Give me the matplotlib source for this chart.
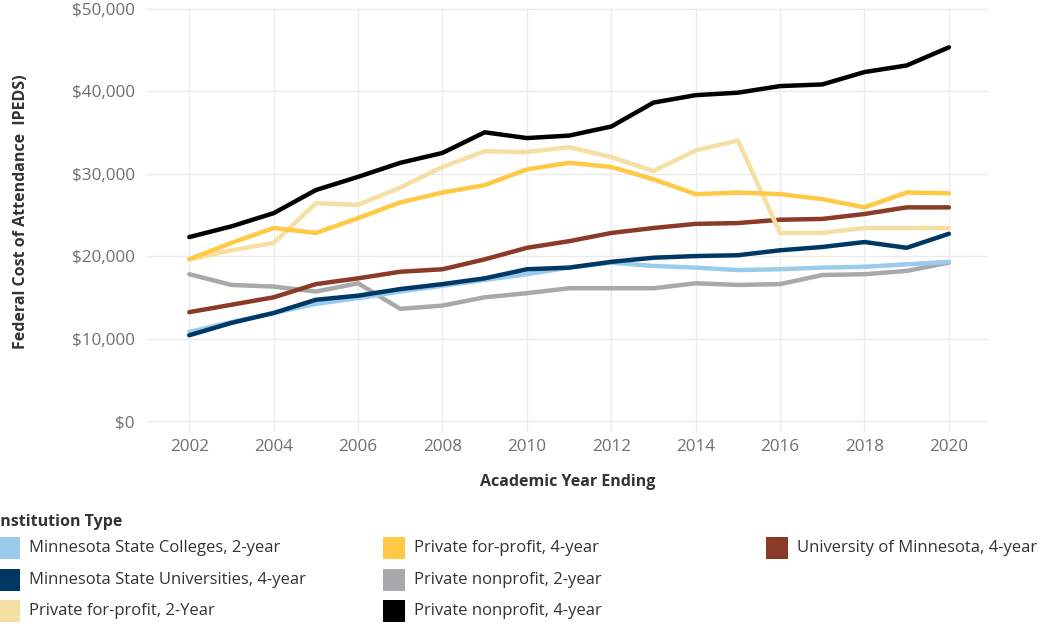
import matplotlib.pyplot as plt
from matplotlib.patches import Rectangle
from matplotlib.ticker import FuncFormatter

years = list(range(2002, 2021))

msc_2yr = [10800, 12000, 13100, 14200, 14900, 15700, 16400, 17100, 17800, 18600,
           19200, 18800, 18600, 18300, 18400, 18600, 18700, 19000, 19300]
msu_4yr = [10400, 11900, 13100, 14700, 15200, 16000, 16600, 17300, 18400, 18600,
           19300, 19800, 20000, 20100, 20700, 21100, 21700, 21000, 22700]
pfp_2yr = [19600, 20700, 21600, 26400, 26200, 28300, 30800, 32700, 32600, 33200,
           32000, 30300, 32800, 34000, 22800, 22800, 23400, 23400, 23400]
pfp_4yr = [19600, 21600, 23400, 22800, 24600, 26500, 27700, 28600, 30500, 31300,
           30800, 29300, 27500, 27700, 27500, 26900, 25900, 27700, 27600]
pnp_2yr = [17800, 16500, 16300, 15700, 16700, 13600, 14000, 15000, 15500, 16100,
           16100, 16100, 16700, 16500, 16600, 17700, 17800, 18200, 19200]
pnp_4yr = [22300, 23600, 25200, 28000, 29600, 31300, 32500, 35000, 34300, 34600,
           35700, 38600, 39500, 39800, 40600, 40800, 42300, 43100, 45300]
umn_4yr = [13200, 14100, 15000, 16600, 17300, 18100, 18400, 19600, 21000, 21800,
           22800, 23400, 23900, 24000, 24400, 24500, 25100, 25900, 25900]

labels = ["Minnesota State Colleges, 2-year", "Minnesota State Universities, 4-year",
          "Private for-profit, 2-Year", "Private for-profit, 4-year",
          "Private nonprofit, 2-year", "Private nonprofit, 4-year",
          "University of Minnesota, 4-year"]
series = [msc_2yr, msu_4yr, pfp_2yr, pfp_4yr, pnp_2yr, pnp_4yr, umn_4yr]
colors = ["#9BCBEB", "#003865", "#F5DFA2", "#FFC845", "#A8A9AB", "#000000", "#8B3A28"]

fig = plt.figure(figsize=(10.43, 6.24), dpi=100)
ax = fig.add_axes([0.141, 0.308, 0.806, 0.679])

# draw order: lighter lines underneath
order = [4, 0, 1, 6, 2, 3, 5]
for i in order:
    ax.plot(years, series[i], color=colors[i], lw=3.2, solid_capstyle="round",
            solid_joinstyle="round", zorder=3)

ax.set_xlim(2001.0, 2020.92)
ax.set_ylim(-1300, 50050)
ax.set_xticks(range(2002, 2021, 2))
ax.set_yticks(range(0, 50001, 10000))
ax.yaxis.set_major_formatter(FuncFormatter(lambda v, p: f"${v:,.0f}"))
ax.grid(True, color="#EBEBEB", lw=1.0)
ax.set_axisbelow(True)
for s in ax.spines.values():
    s.set_visible(False)
ax.tick_params(length=0, labelsize=12.3, labelcolor="#707070", pad=9)
for t in ax.get_xticklabels() + ax.get_yticklabels():
    t.set_fontfamily("Open Sans")
ax.tick_params(axis="x", pad=5)

ax.set_xlabel("Academic Year Ending", fontsize=11.5, fontweight="bold",
              family="Open Sans", color="#333333", labelpad=14)
ax.set_ylabel("Federal Cost of Attendance  IPEDS)", fontsize=11.5, fontweight="bold",
              family="Open Sans", color="#333333")
ax.yaxis.set_label_coords(-0.140, 0.519)

# legend laid out manually in three columns
fig.text(-0.005, 1 - 522 / 624, "Institution Type", fontsize=11.5, fontweight="bold",
         family="Open Sans", color="#333333", va="center", ha="left")
col_x = [-2, 383, 766]
row_y = [548, 580, 611]
for k, (lab, c) in enumerate(zip(labels, colors)):
    col, row = divmod(k, 3)
    x0 = col_x[col]
    yc = row_y[row]
    fig.patches.append(Rectangle((x0 / 1043, 1 - (yc + 11) / 624), 22 / 1043, 22 / 624,
                                 transform=fig.transFigure, facecolor=c, edgecolor="none"))
    fig.text((x0 + 31) / 1043, 1 - yc / 624, lab, fontsize=12, family="Open Sans",
             color="#333333", va="center", ha="left")

fig.savefig("out.png", dpi=100)
